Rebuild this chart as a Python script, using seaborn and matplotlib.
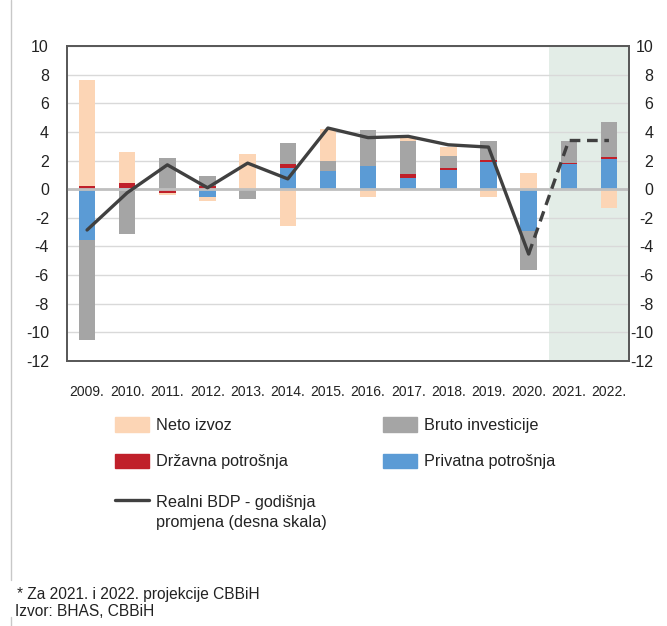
import numpy as np
import matplotlib
matplotlib.use("Agg")
import matplotlib.pyplot as plt
from matplotlib.patches import Patch
from matplotlib.lines import Line2D
import seaborn as sns

years = ['2009.', '2010.', '2011.', '2012.', '2013.', '2014.', '2015.',
         '2016.', '2017.', '2018.', '2019.', '2020.', '2021.', '2022.']
privatna = [-3.52, 0.08, 0.00, -0.54, 0.00, 1.47, 1.28, 1.61, 0.79, 1.35, 1.91, -2.90, 1.77, 2.08]
drzavna = [0.20, 0.36, -0.28, 0.23, 0.00, 0.28, 0.00, 0.00, 0.26, 0.15, 0.12, 0.00, 0.08, 0.14]
bruto = [-7.00, -3.13, 2.15, 0.66, -0.68, 1.47, 0.70, 2.49, 2.31, 0.81, 1.35, -2.75, 1.51, 2.45]
neto = [7.45, 2.15, -0.14, -0.30, 2.45, -2.57, 2.24, -0.54, 0.20, 0.63, -0.56, 1.14, 0.00, -1.33]
gdp = [-2.85, -0.25, 1.70, 0.10, 1.82, 0.72, 4.27, 3.60, 3.69, 3.10, 2.94, -4.53, 3.40, 3.40]

labels = ['Privatna potrošnja', 'Državna potrošnja', 'Bruto investicije', 'Neto izvoz']
colors = ['#5B9BD5', '#C0202A', '#A5A5A5', '#FCD5B5']
line_label_1 = 'Realni BDP - godišnja'
line_label_2 = 'promjena (desna skala)'
foot1 = '* Za 2021. i 2022. projekcije CBBiH'
foot2 = 'Izvor: BHAS, CBBiH'

sns.set_style('white')
plt.rcParams['font.family'] = ['Liberation Sans', 'DejaVu Sans']
plt.rcParams['axes.unicode_minus'] = False

W, H = 667, 626
fig = plt.figure(figsize=(W / 100, H / 100), dpi=100)
L, R, T, B = 67, 629, 46, 361
ax = fig.add_axes([L / W, 1 - B / H, (R - L) / W, (B - T) / H])

series = [np.array(s, dtype=float) for s in (privatna, drzavna, bruto, neto)]
pos = np.cumsum([np.clip(s, 0, None) for s in series], axis=0)
neg = np.cumsum([np.clip(s, None, 0) for s in series], axis=0)

ax.axvspan(11.5, 13.5, color='#E3EDE7', zorder=0, lw=0)
for k in range(3, -1, -1):
    sns.barplot(x=years, y=pos[k], ax=ax, color=colors[k], width=0.41,
                saturation=1, linewidth=0, order=years, zorder=2)
    sns.barplot(x=years, y=neg[k], ax=ax, color=colors[k], width=0.41,
                saturation=1, linewidth=0, order=years, zorder=2)

ax.axhline(0, color='#BFBFBF', lw=2, zorder=3)
ax.set_ylim(-12, 10)
ax.set_yticks(range(-12, 11, 2))
ax.set_yticklabels([str(v) for v in range(-12, 11, 2)])
ax.grid(axis='y', color='#D9D9D9', lw=1)
ax.grid(axis='x', visible=False)
ax.set_axisbelow(True)
ax.set_xlabel('')
ax.set_ylabel('')
ax.tick_params(axis='x', length=0, pad=17, labelsize=10, colors='#222222')
ax.tick_params(axis='y', length=0, pad=13, labelsize=11.5, colors='#222222')

ax2 = ax.twinx()
idx = np.arange(len(years))
sns.lineplot(x=idx[:12], y=gdp[:12], ax=ax2, color='#404040', lw=2.4, sort=False)
sns.lineplot(x=idx[11:], y=gdp[11:], ax=ax2, color='#404040', lw=2.4, sort=False,
             linestyle=(0, (3.2, 2.0)))
ax2.set_ylim(-12, 10)
ax2.set_yticks(range(-12, 11, 2))
ax2.set_yticklabels([str(v) for v in range(-12, 11, 2)], ha='right')
ax2.tick_params(axis='y', length=0, pad=17.5, labelsize=11.5, colors='#222222')
ax2.set_ylabel('')
ax2.grid(False)
ax.set_xlim(-0.5, 13.5)
ax2.set_xlim(-0.5, 13.5)

for a in (ax, ax2):
    for sp in a.spines.values():
        sp.set_color('#595959')
        sp.set_linewidth(1.3)
        sp.set_visible(True)

# legends
fs = 11.7
common = dict(frameon=False, fontsize=fs, handlelength=2.1, handleheight=1.0,
              handletextpad=0.45, labelspacing=1.28, borderpad=0, borderaxespad=0,
              loc='upper left')
leg1 = fig.legend([Patch(color=colors[3]), Patch(color=colors[1])], [labels[3], labels[1]],
                  bbox_to_anchor=(115 / W, 1 - 417 / H), **common)
leg2 = fig.legend([Patch(color=colors[2]), Patch(color=colors[0])], [labels[2], labels[0]],
                  bbox_to_anchor=(383 / W, 1 - 417 / H), **common)
leg3 = fig.legend([Line2D([], [], color='#404040', lw=2.4)], [line_label_1],
                  bbox_to_anchor=(115 / W, 1 - 494 / H), **common)
for lg in (leg1, leg2, leg3):
    for t in lg.get_texts():
        t.set_color('#222222')
fig.text(156.5 / W, 1 - 522 / H, line_label_2, fontsize=fs, va='center', ha='left',
         color='#222222')

fig.text(17 / W, 1 - 594 / H, foot1, fontsize=11.2, va='center', ha='left', color='#222222')
fig.text(15 / W, 1 - 611 / H, foot2, fontsize=11.2, va='center', ha='left', color='#222222')

fig.add_artist(Line2D([11 / W, 11 / W], [1 - 0 / H, 1 - 580 / H], transform=fig.transFigure,
                      color='#C8C8C8', lw=1))
fig.add_artist(Line2D([11 / W, 11 / W], [1 - 617 / H, 0], transform=fig.transFigure,
                      color='#C8C8C8', lw=1))

fig.savefig('out.png', dpi=100)
